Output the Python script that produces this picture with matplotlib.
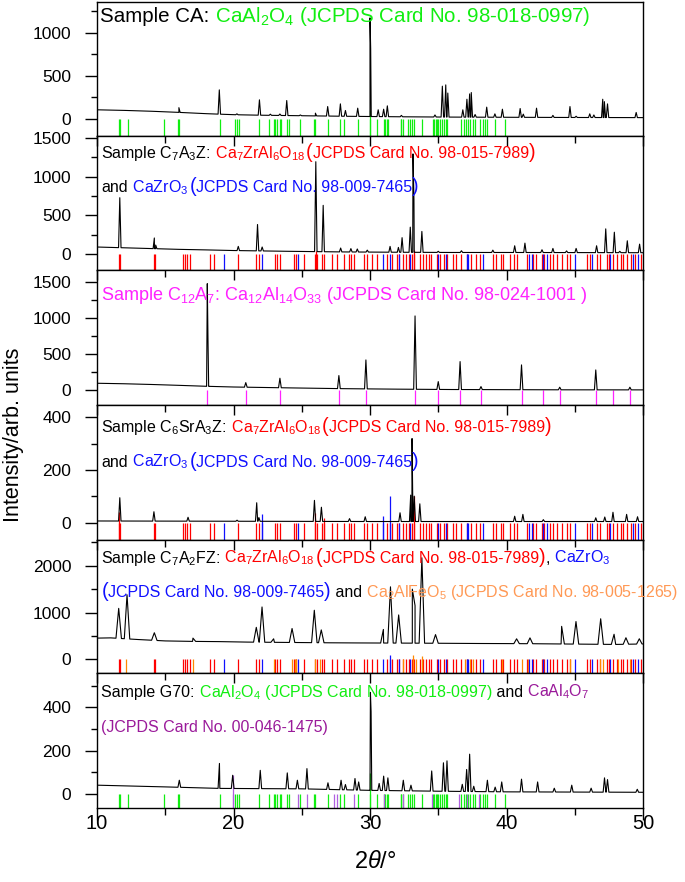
import numpy as np
import matplotlib
matplotlib.use("Agg")
import matplotlib.pyplot as plt
import matplotlib.transforms as mtransforms
from matplotlib.ticker import MultipleLocator

plt.rcParams['font.family'] = ['Liberation Sans', 'DejaVu Sans']
plt.rcParams['mathtext.fontset'] = 'custom'
plt.rcParams['mathtext.rm'] = 'Liberation Sans'
plt.rcParams['mathtext.it'] = 'Liberation Sans:italic'

GREEN = '#11ee11'
RED = '#ff0000'
BLUE = '#1010ff'
MAGENTA = '#ff22ff'
ORANGE_TXT = '#ff9955'
ORANGE = '#ff8800'
PURPLE_TXT = '#9a1a9a'
PURPLE = '#b060e0'

# ---- reference stick positions (2theta) ----
caal2o4_sticks = [11.6, 11.68, 12.3, 14.9, 15.9, 16.0, 19.0, 20.1, 20.25, 20.4, 21.9, 22.6,
                  22.95, 23.07, 23.2, 23.4, 23.5, 23.9, 24.1, 24.85, 25.9, 26.0, 26.9, 27.8,
                  28.1, 29.1, 30.0, 30.5, 31.0, 31.1, 31.27, 31.35, 32.25, 32.3, 32.4, 32.8,
                  32.9, 33.1, 33.25, 33.8, 34.65, 34.72, 34.8, 34.9, 35.0, 35.1, 35.25, 35.4,
                  35.55, 35.65, 36.7, 36.85, 37.0, 37.2, 37.3, 37.55, 37.7, 38.05, 38.3, 38.4,
                  38.55, 39.15, 39.9]
c7za6_sticks = [11.62, 11.7, 14.15, 14.27, 16.3, 16.42, 16.6, 16.84, 18.3, 18.55, 20.3, 21.67,
                21.9, 23.07, 23.2, 23.4, 24.4, 24.55, 25.15, 25.95, 26.1, 26.45, 26.6, 27.2,
                27.6, 28.07, 28.45, 28.6, 28.8, 29.55, 29.75, 30.12, 30.5, 31.22, 31.6, 31.95,
                32.15, 32.44, 32.64, 32.88, 33.05, 33.2, 33.66, 33.9, 34.1, 34.35, 34.5, 34.9,
                35.13, 35.42, 35.66, 36.05, 36.3, 36.7, 37.08, 37.37, 37.8, 38.06, 39.03, 39.23,
                39.57, 39.77, 40.26, 40.55, 40.74, 41.48, 41.97, 42.16, 42.58, 42.75, 43.19,
                43.38, 43.67, 44.1, 44.4, 44.65, 45.87, 46.1, 46.6, 46.85, 47.34, 47.53, 47.83,
                48.07, 48.36, 48.56, 48.85, 49.1, 49.4, 49.83]
cazro3_sticks = [19.32, 22.1, 24.74, 30.93, 31.45, 32.1, 32.93, 35.0, 35.6, 37.08, 37.2, 38.3,
                 41.67, 41.84, 42.7, 42.94, 45.0, 46.24, 47.58, 49.3, 49.66]
c2af_sticks = [12.15, 17.03, 23.0, 24.29, 24.48, 24.6, 26.0, 26.36, 32.44, 33.17, 33.37, 33.78,
               36.96, 37.08, 37.33, 37.57, 39.65, 41.1, 41.6, 42.7, 44.65, 46.85, 47.1, 48.2,
               49.05]
c12a7_sticks = [18.08, 20.9, 23.4, 27.72, 29.7, 33.3, 35.0, 36.6, 38.13, 41.1, 42.65, 43.9,
                46.54, 47.8, 49.04]
caal4o7_sticks = [19.94, 24.74, 25.4, 27.35, 27.6, 28.85, 31.06, 32.4, 34.52, 36.5, 37.14, 38.0]

# ---- patterns: background points and peak tops (2theta, intensity) ----
ca_bg_x = [10, 12, 14, 16, 18, 20, 22, 24, 26, 28, 30, 32, 34, 36, 40, 44, 50]
ca_bg_y = [105, 98, 88, 75, 60, 48, 42, 38, 34, 30, 27, 24, 22, 20, 18, 16, 14]
ca_pk_x = [16.0, 18.96, 20.25, 21.9, 22.7, 23.4, 23.9, 24.9, 26.0, 26.9, 27.83, 28.2, 29.1,
           30.0, 30.05, 30.6, 31.0, 31.27, 32.3, 34.76, 35.3, 35.55, 35.7, 36.8, 37.1, 37.3,
           37.42, 37.7, 38.55, 39.15, 39.7, 41.0, 41.23, 42.2, 43.4, 44.65, 45.1, 46.1, 46.4,
           47.05, 47.17, 47.4, 49.5]
ca_pk_y = [130, 337, 58, 221, 54, 56, 213, 45, 66, 143, 174, 97, 124,
           1175, 815, 105, 112, 151, 40, 45, 380, 395, 300, 105, 228, 290,
           306, 50, 136, 58, 112, 120, 55, 124, 40, 143, 30, 58, 45,
           228, 200, 174, 74]

c7a3z_bg_x = [10, 12, 14, 16, 18, 20, 24, 28, 32, 36, 40, 44, 50]
c7a3z_bg_y = [95, 85, 75, 65, 58, 50, 40, 32, 28, 25, 25, 24, 22]
c7a3z_pk_x = [11.67, 14.2, 14.3, 20.35, 21.76, 22.1, 26.03, 26.57, 27.85, 28.6, 29.07, 29.8,
              31.47, 32.08, 32.35, 32.95, 33.15, 33.22, 33.8, 35.0, 36.7, 39.0, 40.6, 41.35,
              42.6, 43.4, 44.4, 45.1, 46.6, 47.27, 47.9, 48.3, 48.85, 49.75]
c7a3z_pk_y = [728, 211, 120, 103, 384, 95, 1190, 630, 82, 75, 70, 55,
              103, 90, 215, 350, 1290, 700, 295, 40, 47, 55, 111, 145,
              60, 77, 45, 77, 111, 328, 285, 40, 175, 132]

c12a7_bg_x = [10, 12, 14, 16, 18, 20, 24, 28, 32, 36, 40, 44, 50]
c12a7_bg_y = [97, 90, 80, 68, 55, 45, 33, 22, 15, 10, 8, 6, 5]
c12a7_pk_x = [18.08, 18.13, 20.9, 23.4, 27.72, 29.7, 33.3, 35.0, 36.6, 38.13, 41.1, 43.9,
              46.54, 49.04]
c12a7_pk_y = [1480, 720, 106, 167, 204, 421, 1032, 120, 398, 51, 352, 42, 282, 42]

c6sr_bg_x = [10, 20, 30, 40, 50]
c6sr_bg_y = [7, 6, 5, 5, 5]
c6sr_pk_x = [11.67, 14.17, 16.67, 20.26, 21.7, 21.86, 25.93, 26.44, 28.5, 29.65, 32.2, 32.98,
             33.08, 33.24, 33.65, 40.6, 41.2, 42.7, 46.54, 47.2, 47.8, 48.8, 49.6]
c6sr_pk_y = [95, 42, 21, 10, 76, 20, 85, 59, 16, 23, 38, 105,
             319, 101, 72, 25, 32, 12, 19, 22, 40, 32, 23]

c7a2fz_bg_x = [10, 11, 13, 15, 17, 19, 21, 23, 25, 27, 29, 31, 35, 38, 40, 42, 44, 46, 48, 50]
c7a2fz_bg_y = [455, 460, 425, 395, 385, 380, 370, 365, 360, 355, 352, 350, 345, 340, 338,
               335, 330, 325, 320, 330]
c7a2fz_pk_x = [11.59, 12.2, 14.2, 17.03, 21.67, 22.09, 22.94, 24.29, 25.92, 26.43, 30.98,
               31.5, 32.1, 33.1, 33.3, 33.8, 34.8, 40.74, 41.72, 44.04, 45.09, 46.9, 47.88,
               48.75, 49.73]
c7a2fz_pk_y = [1090, 1380, 570, 455, 685, 1120, 440, 660, 1050, 630, 640,
               1550, 950, 1500, 1150, 2170, 530, 440, 460, 706, 809, 868, 537,
               463, 441]

g70_bg_x = [10, 15, 19, 25, 30, 35, 40, 50]
g70_bg_y = [39, 31, 24, 22, 15, 11, 8, 6]
g70_pk_x = [16.03, 18.97, 19.94, 21.96, 23.94, 24.68, 25.38, 26.92, 27.88, 28.2, 28.9, 29.17,
            30.03, 30.08, 30.67, 31.0, 31.31, 32.44, 33.0, 34.52, 35.38, 35.64, 36.76, 37.08,
            37.3, 37.6, 38.6, 39.17, 39.65, 41.1, 42.28, 43.5, 44.78, 46.2, 47.18, 47.4, 49.58]
g70_pk_y = [62, 140, 85, 108, 96, 62, 116, 50, 62, 42, 70, 54,
            470, 380, 47, 81, 73, 62, 39, 105, 143, 152, 43, 112,
            183, 34, 62, 30, 54, 67, 54, 25, 39, 25, 73, 65, 20]

# sticks that rise above the zero line (2theta, top)
ca_tall = [(30.0, 100)]
c7a3z_tall = [(26.03, 50), (33.2, 60)]
c6sr_tall_red = [(11.62, 40), (25.95, 38), (33.2, 100), (26.6, 20)]
c6sr_tall_blue = [(31.45, 100), (22.1, 32), (30.93, 25)]
c7a2fz_tall_blue = [(31.45, 100)]
c7a2fz_tall_orange = [(33.17, 100), (33.78, 80)]
g70_tall_green = [(30.0, 95)]
g70_tall_purple = [(19.94, 85)]


def build_curve(bg_x, bg_y, pk_x, pk_y, w):
    xs = list(bg_x)
    ys = list(bg_y)
    for p, h in zip(pk_x, pk_y):
        for d in (-w, w):
            xs.append(p + d)
            ys.append(np.interp(p + d, bg_x, bg_y))
        xs.append(p)
        ys.append(h)
    order = np.argsort(xs, kind='stable')
    return np.array(xs)[order], np.array(ys)[order]


def sticks(ax, pos, color, tall=None, lw=0.9):
    bottom = ax.get_ylim()[0]
    ax.vlines(pos, bottom, 0, colors=color, lw=lw, zorder=1)
    if tall:
        tx = [t[0] for t in tall]
        ty = [t[1] for t in tall]
        ax.vlines(tx, bottom, ty, colors=color, lw=lw, zorder=1)


def color_text(ax, x, y, parts, size):
    # parts: (text, colour[, fontsize[, gap in px before]]); spaces go at the start of a part
    fig = ax.figure
    r = fig.canvas.get_renderer()
    dx = 0
    for p in parts:
        s, c = p[0], p[1]
        fs = p[2] if len(p) > 2 else size
        if len(p) > 3:
            dx += p[3]
        tr = mtransforms.offset_copy(ax.transAxes, fig=fig, x=dx, y=0, units='dots')
        t = ax.text(x, y, s, color=c, fontsize=fs, va='baseline', ha='left', transform=tr)
        dx += t.get_window_extent(r).width


def card(name, number, color, big=14.5):
    # compound name + card number with the taller brackets used in the figure
    return [(" " + name, color), ("(", color, big, 1), ("JCPDS Card No. " + number, color),
            (")", color, big)]


W, H = 685, 882
fig = plt.figure(figsize=(W / 100, H / 100), dpi=100)

left_px, right_px = 97, 643
panel_px = [(2, 136), (136, 270), (270, 405), (405, 540), (540, 673), (673, 808)]
ylims = [(-200, 1360), (-200, 1520), (-205, 1670), (-65, 446), (-290, 2550), (-67, 560)]
majors = [500, 500, 500, 200, 1000, 200]

axes = []
for i, (top, bot) in enumerate(panel_px):
    ax = fig.add_axes([left_px / W, 1 - bot / H, (right_px - left_px) / W, (bot - top) / H])
    ax.set_xlim(10, 50)
    ax.set_ylim(*ylims[i])
    ax.yaxis.set_major_locator(MultipleLocator(majors[i]))
    ax.yaxis.set_minor_locator(MultipleLocator(majors[i] / 2))
    ax.xaxis.set_major_locator(MultipleLocator(10))
    ax.xaxis.set_minor_locator(MultipleLocator(5))
    ax.tick_params(axis='y', which='both', direction='out', labelsize=12.5, width=1.0, pad=10)
    ax.tick_params(axis='y', which='major', length=8.5)
    ax.tick_params(axis='y', which='minor', length=4.5)
    last = i == len(panel_px) - 1
    ax.tick_params(axis='x', which='both', top=(i > 0), bottom=last, labelbottom=last,
                   direction='in', width=1.0, labelsize=14.5, pad=4)
    ax.tick_params(axis='x', which='major', length=7)
    ax.tick_params(axis='x', which='minor', length=5)
    for sp in ax.spines.values():
        sp.set_linewidth(1.0)
    axes.append(ax)

# last panel: bottom ticks point outwards (and longer), top ticks inwards
for tl in axes[-1].xaxis.get_major_ticks():
    tl.tick1line.set_marker(3)
    tl.tick1line.set_markersize(8.5)
    tl.tick2line.set_marker(3)
for tl in axes[-1].xaxis.get_minor_ticks():
    tl.tick1line.set_marker(3)
    tl.tick1line.set_markersize(5)
    tl.tick2line.set_marker(3)

# panel 1: CA
ax = axes[0]
sticks(ax, caal2o4_sticks, GREEN, ca_tall)
x, y = build_curve(ca_bg_x, ca_bg_y, ca_pk_x, ca_pk_y, 0.09)
ax.plot(x, y, color='black', lw=0.8, zorder=3)
color_text(ax, 0.006, 0.853, [("Sample CA:", 'black'),
                              (r" CaAl$_2$O$_4$ (JCPDS Card No. 98-018-0997)", GREEN)], 14.8)

# panel 2: C7A3Z
ax = axes[1]
sticks(ax, c7za6_sticks, RED, c7a3z_tall)
sticks(ax, cazro3_sticks, BLUE)
x, y = build_curve(c7a3z_bg_x, c7a3z_bg_y, c7a3z_pk_x, c7a3z_pk_y, 0.09)
ax.plot(x, y, color='black', lw=0.8, zorder=3)
color_text(ax, 0.008, 0.836, [(r"Sample C$_7$A$_3$Z:", 'black')]
           + card(r"Ca$_7$ZrAl$_6$O$_{18}$", "98-015-7989", RED), 11.5)
color_text(ax, 0.008, 0.582, [("and", 'black')]
           + card(r"CaZrO$_3$", "98-009-7465", BLUE), 11.5)

# panel 3: C12A7
ax = axes[2]
sticks(ax, c12a7_sticks, MAGENTA)
x, y = build_curve(c12a7_bg_x, c12a7_bg_y, c12a7_pk_x, c12a7_pk_y, 0.1)
ax.plot(x, y, color='black', lw=0.8, zorder=3)
color_text(ax, 0.008, 0.778,
           [(r"Sample C$_{12}$A$_7$: Ca$_{12}$Al$_{14}$O$_{33}$ (JCPDS Card No. 98-024-1001 )",
             MAGENTA)], 13)

# panel 4: C6SrA3Z
ax = axes[3]
sticks(ax, c7za6_sticks, RED, c6sr_tall_red)
sticks(ax, cazro3_sticks, BLUE, c6sr_tall_blue)
x, y = build_curve(c6sr_bg_x, c6sr_bg_y, c6sr_pk_x, c6sr_pk_y, 0.09)
ax.plot(x, y, color='black', lw=0.8, zorder=3)
color_text(ax, 0.008, 0.798, [(r"Sample C$_6$SrA$_3$Z:", 'black')]
           + card(r"Ca$_7$ZrAl$_6$O$_{18}$", "98-015-7989", RED), 11.5)
color_text(ax, 0.008, 0.543, [("and", 'black')]
           + card(r"CaZrO$_3$", "98-009-7465", BLUE), 11.5)

# panel 5: C7A2FZ
ax = axes[4]
sticks(ax, c7za6_sticks, RED)
sticks(ax, c2af_sticks, ORANGE, c7a2fz_tall_orange)
sticks(ax, cazro3_sticks, BLUE, c7a2fz_tall_blue)
x, y = build_curve(c7a2fz_bg_x, c7a2fz_bg_y, c7a2fz_pk_x, c7a2fz_pk_y, 0.2)
ax.plot(x, y, color='black', lw=0.8, zorder=3)
color_text(ax, 0.008, 0.829, [(r"Sample C$_7$A$_2$FZ:", 'black')]
           + card(r"Ca$_7$ZrAl$_6$O$_{18}$", "98-015-7989", RED)
           + [(",", 'black'), (r" CaZrO$_3$", BLUE)], 11.5)
color_text(ax, 0.008, 0.574, [("(", BLUE, 14.5), ("JCPDS Card No. 98-009-7465", BLUE),
                              (")", BLUE, 14.5), (" and", 'black'),
                              (r" Ca$_2$AlFeO$_5$ (JCPDS Card No. 98-005-1265)", ORANGE_TXT)], 11.5)

# panel 6: G70
ax = axes[5]
sticks(ax, caal2o4_sticks, GREEN, g70_tall_green)
sticks(ax, caal4o7_sticks, PURPLE, g70_tall_purple)
x, y = build_curve(g70_bg_x, g70_bg_y, g70_pk_x, g70_pk_y, 0.1)
ax.plot(x, y, color='black', lw=0.8, zorder=3)
color_text(ax, 0.008, 0.824, [("Sample G70:", 'black'),
                              (r" CaAl$_2$O$_4$ (JCPDS Card No. 98-018-0997)", GREEN),
                              (" and", 'black'), (r" CaAl$_4$O$_7$", PURPLE_TXT)], 11.5)
color_text(ax, 0.008, 0.565, [("(JCPDS Card No. 00-046-1475)", PURPLE_TXT)], 11.5)

fig.text(0.019, 1 - 435 / H, "Intensity/arb. units", rotation=90, ha='center', va='center',
         fontsize=15.5)
fig.text(375 / W, 1 - 862 / H, r"2$\theta$/°", ha='center', va='center', fontsize=17)

fig.savefig("out.png", dpi=100)
